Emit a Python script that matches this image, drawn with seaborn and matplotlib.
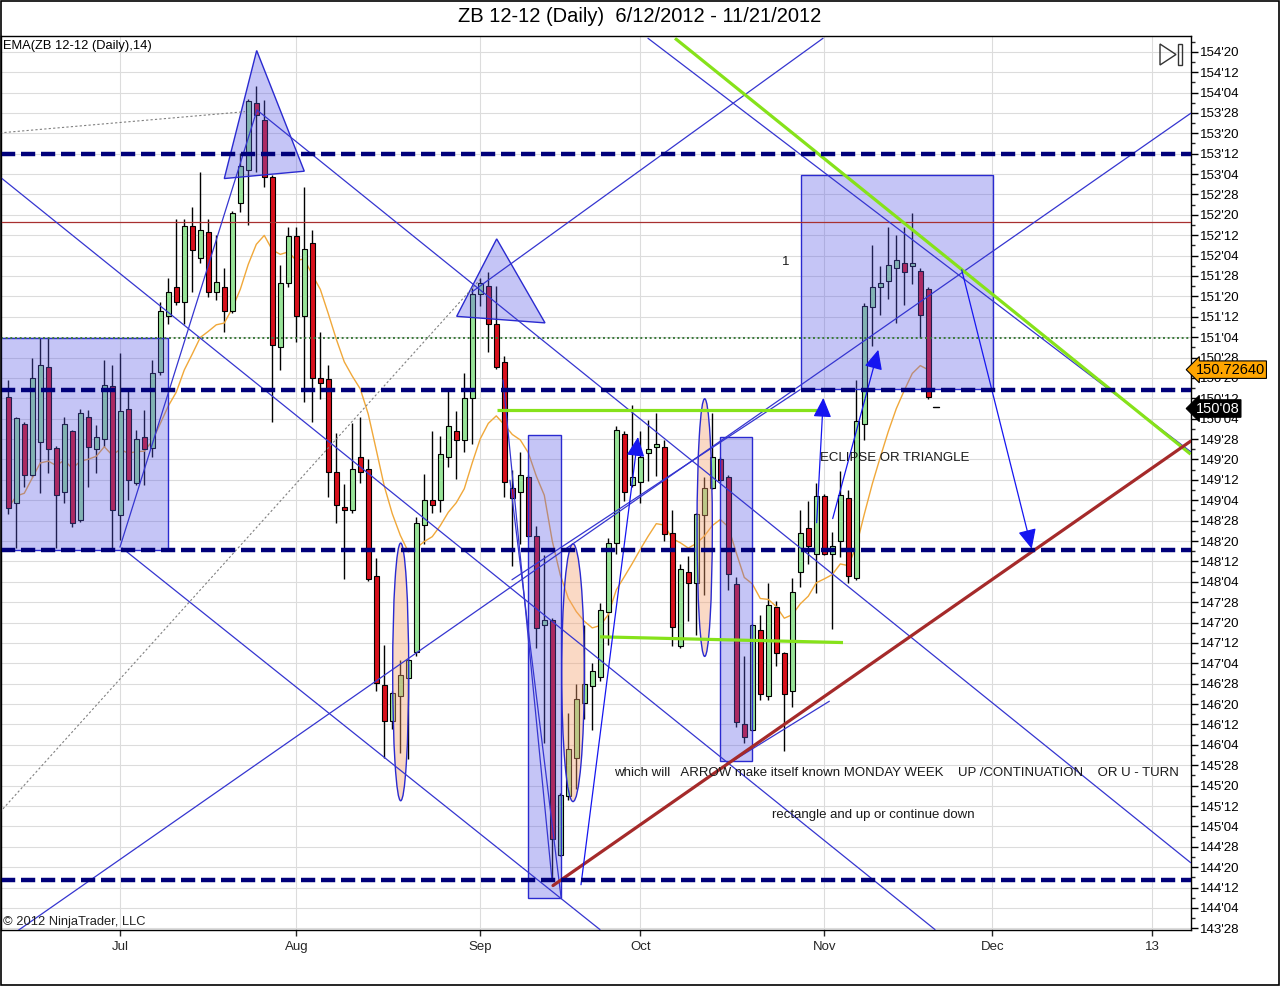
import numpy as np
import pandas as pd
import matplotlib
matplotlib.use("Agg")
import matplotlib.pyplot as plt
import matplotlib.transforms as mtransforms
from matplotlib.patches import Rectangle, Polygon, Ellipse
from matplotlib.ticker import FixedLocator, FuncFormatter
import seaborn as sns

sns.set_style("white")
plt.rcParams['font.family'] = ['Liberation Sans', 'DejaVu Sans']

# daily OHLC, ZB 12-12, 6/12/2012 - 11/21/2012 (one entry per bar)
opens = [150.39, 149.09, 150.06, 149.43, 149.84, 150.76, 149.77, 149.23, 149.97, 148.88,
         150.15, 149.75, 149.87, 150.53, 148.94, 150.25, 149.34, 149.90, 149.76, 150.70,
         151.38, 151.74, 151.56, 152.49, 152.09, 152.41, 151.68, 151.74, 151.44, 152.77,
         153.18, 154.00, 153.79, 153.09, 151.01, 151.79, 152.37, 151.38, 152.28, 150.63,
         150.61, 149.47, 149.04, 149.01, 149.66, 149.51, 148.19, 146.86, 146.42, 146.73,
         146.95, 147.26, 148.82, 149.13, 149.13, 149.66, 149.98, 149.86, 150.38, 151.66,
         151.75, 151.29, 150.82, 149.28, 149.23, 149.41, 148.69, 147.60, 147.66, 144.78,
         145.50, 145.96, 146.64, 146.85, 146.96, 147.75, 148.60, 149.94, 149.31, 149.35,
         149.71, 149.78, 149.78, 148.72, 147.34, 148.25, 148.11, 148.94, 149.28, 149.63,
         149.41, 148.10, 146.38, 146.31, 147.53, 146.72, 147.81, 147.25, 146.78, 148.25,
         148.78, 148.47, 149.18, 148.47, 148.62, 149.15, 148.17, 150.06, 151.50, 151.74,
         151.81, 151.97, 152.03, 152.00, 151.94, 151.72]
highs = [150.60, 150.15, 150.08, 150.87, 151.11, 151.11, 149.79, 150.15, 149.99, 150.25,
         150.23, 150.05, 150.84, 150.78, 150.93, 150.48, 149.99, 150.23, 150.84, 151.56,
         151.85, 152.58, 152.58, 152.72, 153.15, 152.58, 152.38, 151.97, 152.67, 153.38,
         154.05, 154.20, 154.03, 153.11, 152.01, 152.48, 152.48, 152.97, 152.44, 151.19,
         150.78, 149.95, 149.32, 150.07, 150.14, 149.63, 148.42, 147.35, 146.78, 147.17,
         147.19, 148.92, 149.45, 149.98, 149.91, 150.46, 150.22, 150.69, 151.73, 151.85,
         151.92, 151.75, 150.89, 149.50, 149.72, 149.43, 148.81, 148.45, 147.68, 145.53,
         146.51, 146.87, 147.60, 147.13, 147.87, 148.66, 150.04, 149.97, 150.29, 149.98,
         150.11, 150.20, 149.86, 149.01, 148.34, 148.44, 148.97, 149.41, 150.20, 149.65,
         149.43, 148.18, 147.22, 147.61, 147.72, 148.11, 147.89, 147.27, 148.17, 149.00,
         149.12, 149.34, 149.20, 148.74, 149.48, 149.25, 150.60, 151.54, 152.25, 152.00,
         152.48, 152.38, 152.48, 152.65, 151.97, 151.74]
lows = [148.96, 148.54, 149.29, 149.41, 149.21, 149.46, 148.54, 149.09, 148.80, 148.86,
        149.29, 149.46, 149.78, 148.54, 148.64, 149.13, 149.31, 149.31, 149.66, 150.66,
        151.29, 151.52, 151.29, 151.68, 152.03, 151.62, 151.58, 151.19, 151.42, 152.66,
        152.50, 153.15, 152.97, 150.09, 150.72, 151.74, 151.07, 150.33, 150.09, 150.37,
        149.16, 148.85, 148.16, 148.97, 149.34, 148.13, 146.79, 145.97, 146.32, 146.02,
        145.95, 147.21, 148.59, 148.97, 148.98, 149.53, 149.38, 149.72, 149.82, 151.51,
        150.94, 150.74, 149.16, 148.32, 148.59, 148.67, 147.31, 146.15, 144.49, 144.76,
        145.45, 145.59, 146.44, 146.31, 146.91, 147.35, 148.47, 149.12, 149.29, 149.09,
        149.36, 149.42, 148.62, 147.34, 147.31, 147.65, 147.47, 147.96, 149.26, 149.35,
        148.03, 146.34, 146.15, 146.29, 146.68, 146.68, 147.09, 146.05, 146.59, 148.06,
        148.34, 147.99, 148.45, 147.55, 148.43, 148.11, 148.15, 149.86, 151.02, 151.40,
        151.59, 151.30, 151.52, 151.78, 151.12, 150.37]
closes = [149.03, 150.13, 149.43, 150.62, 150.78, 149.75, 149.19, 150.06, 148.84, 150.19,
          149.78, 149.90, 150.54, 149.01, 150.22, 149.37, 149.87, 149.75, 150.68, 151.44,
          151.68, 151.56, 152.49, 152.19, 152.44, 151.68, 151.80, 151.44, 152.65, 153.22,
          154.02, 153.85, 153.09, 151.03, 151.79, 152.37, 151.38, 152.21, 150.62, 150.56,
          149.47, 149.07, 149.01, 149.51, 149.47, 148.16, 146.89, 146.42, 146.76, 146.98,
          147.17, 148.85, 149.13, 149.07, 149.69, 150.04, 149.86, 150.38, 151.66, 151.79,
          151.29, 150.76, 149.35, 149.15, 149.43, 148.69, 147.56, 147.66, 144.97, 145.51,
          146.07, 146.69, 146.87, 147.03, 147.78, 148.60, 149.99, 149.23, 149.41, 149.65,
          149.75, 149.82, 148.71, 147.57, 148.28, 148.11, 148.96, 149.28, 149.65, 149.37,
          148.22, 146.40, 146.22, 147.59, 146.75, 147.84, 147.25, 146.75, 148.00, 148.72,
          148.56, 149.18, 148.47, 148.56, 149.19, 148.19, 150.10, 151.51, 151.74, 151.79,
          152.01, 152.07, 151.93, 152.03, 151.40, 150.39]

month_bars = [14, 36, 59, 79, 102, 123, 143]
month_labels = ["Jul", "Aug", "Sep", "Oct", "Nov", "Dec", "13"]

# drawing objects, in (bar, price)
dashed_levels = [153.375, 150.48, 148.515, 144.47]
red_level = 152.54
dotted_level = 151.12

blue_lines = [
    (-1.04, 153.09, 115.84, 143.86),
    (14.21, 148.54, 73.96, 143.86),
    (1.09, 143.84, 147.8, 153.87),
    (62.96, 148.15, 98.96, 150.48),
    (31.09, 153.91, 147.8, 144.68),
    (79.96, 154.79, 147.8, 149.72),
    (57.96, 151.68, 101.84, 154.79),
    (13.96, 148.55, 31.09, 153.91),
    (90.43, 145.92, 102.63, 146.66),
    (61.84, 150.60, 67.96, 144.47),
    (62.71, 149.37, 69.09, 144.26),
]
blue_arrows = [
    (71.59, 144.41, 78.71, 149.90),
    (101.05, 148.85, 101.88, 150.38),
    (103.05, 148.90, 108.75, 150.97),
    (119.18, 151.95, 127.93, 148.53),
]
grey_lines = [
    (-1.04, 153.63, 29.59, 153.89),
    (-1.04, 145.30, 58.96, 151.83),
]
lime_lines = [
    (61.09, 150.23, 101.09, 150.23),
    (73.96, 147.45, 104.34, 147.38),
    (83.34, 154.79, 147.8, 149.69),
]
brown_line = (68.09, 144.40, 147.8, 149.85)

# rectangles: bar0, bar1, price_low, price_high
boxes = [
    (-1.04, 19.96, 148.515, 151.114),
    (65.0, 69.05, 144.25, 149.93),
    (89.0, 93.0, 145.93, 149.90),
    (99.05, 123.13, 150.49, 153.11),
]
triangles = [
    [(31.05, 154.64), (27.0, 153.07), (37.0, 153.16)],
    [(61.05, 152.33), (56.05, 151.38), (67.09, 151.30)],
]
# ellipses: center bar, center price, width (bars), height (price)
ellipses = [
    (49.05, 147.02, 2.0, 3.16),
    (70.59, 147.01, 2.83, 3.16),
    (87.05, 148.79, 1.91, 3.16),
]
notes = [
    (96.71, 152.05, "1"),
    (101.46, 149.64, "ECLIPSE OR TRIANGLE"),
    (75.71, 145.78, "which will   ARROW make itself known MONDAY WEEK    UP /CONTINUATION    OR U - TURN"),
    (95.46, 145.26, "rectangle and up or continue down"),
]
ema_value = 150.72640
last_price = 150.25

df = pd.DataFrame({"open": opens, "high": highs, "low": lows, "close": closes})
df["bar"] = np.arange(len(df))
df["ema"] = df["close"].ewm(span=14, adjust=False).mean()
up = df["close"] >= df["open"]

fig = plt.figure(figsize=(12.8, 9.86), dpi=100, facecolor="white")
ax = fig.add_axes([0.00078, 0.0568, 0.92945, 0.90669])
ax.set_xlim(-0.91, 147.8)
ax.set_ylim(143.855, 154.818)

# candles
ax.vlines(df["bar"], df["low"], df["high"], color="black", lw=1, zorder=2)
body_low = np.minimum(df["open"], df["close"])
body_h = np.maximum((df["close"] - df["open"]).abs(), 0.025)
ax.bar(df["bar"], body_h, bottom=body_low, width=0.68,
       color=np.where(up, "#98E498", "#D8101C"), edgecolor="black", lw=0.8, zorder=3)

sns.lineplot(x=df["bar"], y=df["ema"], color="#F0A83A", lw=1, ax=ax, zorder=2.5)

# shapes
for b0, b1, p0, p1 in boxes:
    ax.add_patch(Rectangle((b0, p0), b1 - b0, p1 - p0, facecolor="#5a5ae6", alpha=0.35,
                           edgecolor="none", zorder=4))
    ax.add_patch(Rectangle((b0, p0), b1 - b0, p1 - p0, fill=False, edgecolor="#2a2ad0",
                           lw=1, zorder=4.1))
for tri in triangles:
    ax.add_patch(Polygon(tri, closed=True, facecolor="#5a5ae6", alpha=0.35, edgecolor="none", zorder=4))
    ax.add_patch(Polygon(tri, closed=True, fill=False, edgecolor="#2a2ad0", lw=1, zorder=4.1))
for cx, cy, w, h in ellipses:
    ax.add_patch(Ellipse((cx, cy), w, h, facecolor="#F4A070", alpha=0.4, edgecolor="none", zorder=4))
    ax.add_patch(Ellipse((cx, cy), w, h, fill=False, edgecolor="#2a2ad0", lw=1, zorder=4.1))

# lines
ax.axhline(red_level, color="#A83030", lw=0.9, zorder=5)
ax.axhline(dotted_level, color="#3C7A3C", lw=1.4, ls=(0, (1, 1.4)), zorder=5)
for x0, y0, x1, y1 in grey_lines:
    ax.plot([x0, x1], [y0, y1], color="#808080", lw=0.8, ls=(0, (2, 2)), zorder=5)
for x0, y0, x1, y1 in blue_lines:
    ax.plot([x0, x1], [y0, y1], color="#3535D0", lw=0.9, zorder=5)
for x0, y0, x1, y1 in blue_arrows:
    ax.annotate("", xy=(x1, y1), xytext=(x0, y0),
                arrowprops=dict(arrowstyle="-|>,head_length=0.6,head_width=0.28", mutation_scale=20,
                                color="#1515F0", lw=0.9, shrinkA=0, shrinkB=0), zorder=6)
for x0, y0, x1, y1 in lime_lines:
    ax.plot([x0, x1], [y0, y1], color="#86E21A", lw=2.3, solid_capstyle="butt", zorder=5.5)
ax.plot([brown_line[0], brown_line[2]], [brown_line[1], brown_line[3]],
        color="#A52A2A", lw=2.3, zorder=5.5)
for lvl in dashed_levels:
    ax.axhline(lvl, color="#00007A", lw=3.2, ls=(0, (3.2, 1.3)), zorder=6)
ax.plot([115.6, 116.3], [150.27, 150.27], color="black", lw=1, zorder=6)

for bx, py, txt in notes:
    ax.text(bx, py, txt, fontsize=9.5, color="#1a1a1a", ha="left", va="center", zorder=7)

# axes styling
price_ticks = np.arange(143.875, 154.7, 0.25)
ax.yaxis.tick_right()
ax.yaxis.set_major_locator(FixedLocator(price_ticks))
ax.yaxis.set_minor_locator(FixedLocator(price_ticks + 0.125))


def fmt32(p, pos):
    whole = int(np.floor(p + 1e-9))
    frac = int(round((p - whole) * 32))
    return f"{whole}'{frac:02d}"


ax.yaxis.set_major_formatter(FuncFormatter(fmt32))
ax.tick_params(axis="y", which="major", direction="out", length=5, width=1, pad=1.5,
               labelsize=9.5, colors="black", right=True, left=False)
ax.tick_params(axis="y", which="minor", direction="out", length=3, width=1, right=True, left=False)
ax.set_xticks(month_bars)
ax.set_xticklabels(month_labels)
ax.tick_params(axis="x", direction="out", length=4, width=1, pad=4, labelsize=9.5, bottom=True)
ax.grid(True, which="major", color="#DCDCDC", lw=0.8, zorder=0)
ax.set_axisbelow(True)
for s in ax.spines.values():
    s.set_color("black")
    s.set_linewidth(1)
ax.set_xlabel("")
ax.set_ylabel("")

# price markers on the axis
blend = mtransforms.blended_transform_factory(ax.transAxes, ax.transData)
ax.text(1.004, ema_value, "150.72640", transform=blend, fontsize=10.5, color="black",
        ha="left", va="center", clip_on=False, zorder=8,
        bbox=dict(boxstyle="larrow,pad=0.12", facecolor="#FFA500", edgecolor="black", lw=0.8))
ax.text(1.004, last_price, fmt32(last_price, 0), transform=blend, fontsize=10.5, color="white",
        ha="left", va="center", clip_on=False, zorder=8,
        bbox=dict(boxstyle="larrow,pad=0.12", facecolor="black", edgecolor="black", lw=0.8))

ax.text(0.002, 0.9885, "EMA(ZB 12-12 (Daily),14)", transform=ax.transAxes, fontsize=9.3,
        ha="left", va="center", color="black", zorder=8)
ax.text(0.002, 0.009, "\u00a9 2012 NinjaTrader, LLC", transform=ax.transAxes, fontsize=9.3,
        ha="left", va="center", color="#222222", zorder=8)

fig.text(0.5, 1 - 16 / 986, "ZB 12-12 (Daily)  6/12/2012 - 11/21/2012", ha="center", va="center",
         fontsize=14.5, color="black")

# play-to-end icon
fig.patches.append(Polygon([(0.90625, 0.95538), (0.90625, 0.93408), (0.91875, 0.94473)], closed=True,
                           fill=False, edgecolor="#333333", lw=1, transform=fig.transFigure))
fig.patches.append(Rectangle((0.9203, 0.93408), 0.0029, 0.0213, fill=False, edgecolor="#333333",
                             lw=1, transform=fig.transFigure))
fig.patches.append(Rectangle((0.0004, 0.0006), 0.9992, 0.9988, fill=False, edgecolor="black",
                             lw=1.2, transform=fig.transFigure))

fig.savefig("out.png", dpi=100, facecolor="white")
